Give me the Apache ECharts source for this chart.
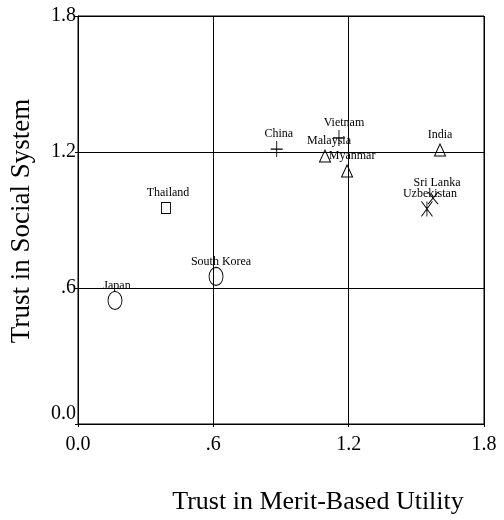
<!DOCTYPE html>
<html>
<head>
<meta charset="utf-8">
<script src="https://cdn.jsdelivr.net/npm/echarts@6/dist/echarts.min.js"></script>
<style>
html,body{margin:0;padding:0;background:#fff;}
#chart{width:504px;height:520px;}
</style>
</head>
<body>
<div id="chart"></div>
<script>
const countries = ['Japan','South Korea','Thailand','China','Vietnam','Malaysia','Myanmar','India','Sri Lanka','Uzbekistan'];
const meritUtility = [0.164,0.612,0.390,0.881,1.157,1.095,1.193,1.605,1.574,1.547];
const socialTrust = [0.545,0.651,0.953,1.213,1.262,1.182,1.116,1.209,0.997,0.949];
const markerKind = ['ellipse','ellipse','square','plus','plus','triangle','triangle','triangle','cross','asterisk'];
const tickValues = [0, 0.6, 1.2, 1.8];
const tickLabels = ['0.0','.6','1.2','1.8'];
const xTitle = 'Trust in Merit-Based Utility';
const yTitle = 'Trust in Social System';

const FONT = 'Liberation Serif, Times New Roman, serif';
const symbols = {
  ellipse: {symbol:'path://M7,0C10.9,0 14,4 14,9C14,14 10.9,18 7,18C3.1,18 0,14 0,9C0,4 3.1,0 7,0Z', size:[14,18]},
  square: {symbol:'rect', size:[9,11]},
  plus: {symbol:'path://M6,0L6,16M0,8L12,8', size:[12,16]},
  triangle: {symbol:'path://M6,0L12,12L0,12Z', size:[11,12]},
  cross: {symbol:'path://M0,0L12,14M12,0L0,14', size:[10,12]},
  asterisk: {symbol:'path://M0,0L12,16M12,0L0,16M6,0L6,16', size:[11,15]}
};
const labelShift = {'South Korea':5,'Vietnam':5,'Myanmar':5,'Sri Lanka':4,'Uzbekistan':3,'Thailand':2,'Malaysia':4,'Japan':2,'China':2};

const fmt = v => {
  const i = tickValues.findIndex(t => Math.abs(t - v) < 1e-6);
  return i >= 0 ? tickLabels[i] : '';
};

const data = countries.map((name, i) => {
  const s = symbols[markerKind[i]];
  return {
    name: name,
    value: [meritUtility[i], socialTrust[i]],
    symbol: s.symbol,
    symbolSize: s.size,
    label: {offset: [labelShift[name] || 0, -15]}
  };
});

const chart = echarts.init(document.getElementById('chart'), null, {renderer:'canvas'});
const axisCommon = {
  type: 'value', min: 0, max: 1.8, interval: 0.6,
  axisLine: {show: true, lineStyle: {color: '#000', width: 1}},
  axisTick: {show: true, length: 3, lineStyle: {color: '#000'}},
  splitLine: {show: true, lineStyle: {color: '#000', width: 1}},
  axisLabel: {color: '#000', fontFamily: FONT, fontSize: 20, formatter: fmt}
};
chart.setOption({
  animation: false,
  backgroundColor: '#fff',
  grid: {left: 78, right: 20, top: 16, bottom: 96, show: true, borderColor: '#000', borderWidth: 1},
  xAxis: Object.assign({}, axisCommon, {axisLabel: Object.assign({}, axisCommon.axisLabel, {margin: 11})}),
  yAxis: Object.assign({}, axisCommon, {axisLabel: Object.assign({}, axisCommon.axisLabel, {margin: 2, verticalAlignMinLabel: 'bottom'})}),
  graphic: [
    {type: 'text', x: 318, y: 502, style: {text: xTitle, font: '26px ' + FONT, fill: '#000', textAlign: 'center', textVerticalAlign: 'middle'}},
    {type: 'text', x: 22, y: 221, rotation: Math.PI / 2, style: {text: yTitle, font: '27px ' + FONT, fill: '#000', textAlign: 'center', textVerticalAlign: 'middle'}}
  ],
  series: [{
    type: 'scatter',
    data: data,
    itemStyle: {color: 'rgba(0,0,0,0)', borderColor: '#000', borderWidth: 1, opacity: 1},
    label: {show: true, position: 'inside', formatter: '{b}', color: '#000', fontFamily: FONT, fontSize: 12},
    emphasis: {disabled: true}
  }]
});
</script>
</body>
</html>
